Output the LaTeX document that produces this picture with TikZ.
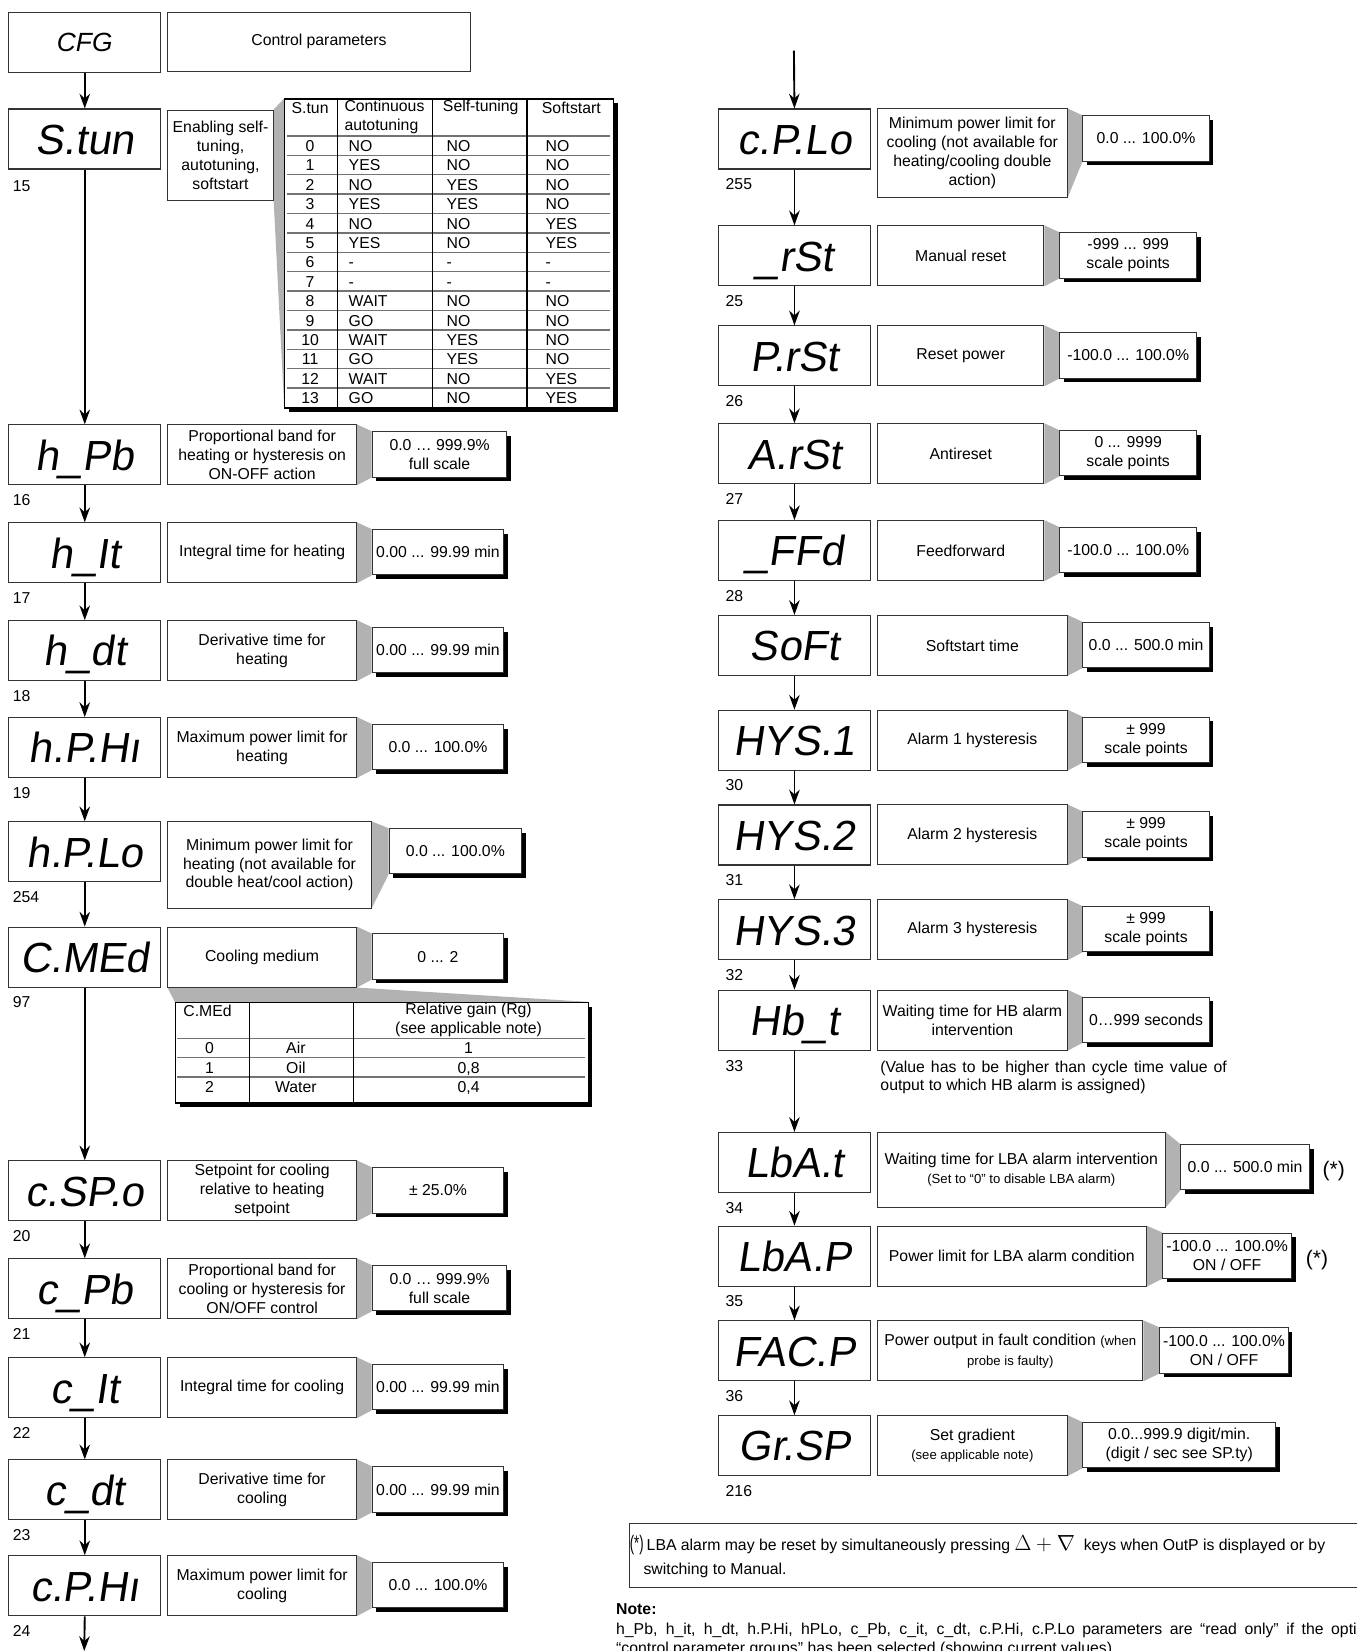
\documentclass[tikz,border=0pt]{standalone}
\usepackage{fontspec}
\setmainfont{Liberation Sans}
\newfontfamily\segfont[FakeSlant=0.15]{Liberation Sans}
\usetikzlibrary{arrows.meta,shadows,backgrounds}

\newcommand\txtfont{\fontsize{15}{18}\selectfont}
\newcommand\smalltxt{\fontsize{12.5}{15}\selectfont}

\tikzset{
  disp/.style={draw=black!80, line width=1pt, anchor=north west, minimum width=144pt, minimum height=57pt,
    inner sep=0pt, text height=29pt, text depth=0pt, font=\segfont\fontsize{40}{40}\selectfont},
  desc/.style={draw=black!80, line width=0.9pt, anchor=north west, align=center, inner sep=1pt, font=\txtfont},
  val/.style={draw=black!80, line width=0.9pt, fill=white, anchor=west, align=center, inner sep=1pt,
    minimum height=43pt, font=\txtfont, general shadow={fill=black, shadow xshift=4pt, shadow yshift=-4pt}},
  tabbox/.style={draw=black, line width=1.1pt, fill=white, anchor=north west,
    general shadow={fill=black, shadow xshift=4pt, shadow yshift=-4pt}},
  rowline/.style={black!55, line width=1.3pt},
  colline/.style={black, line width=1pt},
  cell/.style={inner sep=0pt, font=\txtfont},
  rowcell/.style={cell, text height=11pt, text depth=0pt},
  wedge/.style={fill=black!30},
  flow/.style={->, line width=1.8pt},
  numlbl/.style={anchor=west, inner sep=0pt, font=\txtfont},
  starmark/.style={anchor=west, inner sep=0pt, font=\fontsize{20}{20}\selectfont}
}

\begin{document}
\begin{tikzpicture}[x=1pt, y=-1pt, >={Stealth[length=14pt,width=10pt]}]
\useasboundingbox (0,0) rectangle (1288,1568);

\node[disp, font=\itshape\fontsize{25}{25}\selectfont, text height=18pt] (CFG) at (8,11) {CFG};
\node[desc, minimum width=287pt, minimum height=56pt] (CFG-d) at (159,11) {Control parameters};

\node[disp] (Stun) at (8,103) {S.tun};
\node[desc, minimum width=100pt, minimum height=86pt] (Stun-d) at (159,104) {Enabling self-\\tuning,\\autotuning,\\softstart};
\node[numlbl] (Stun-k) at (12,177) {15};

\node[tabbox, minimum width=312pt, minimum height=293.5pt] (stab) at (270,93.4) {};
\foreach \i in {0,...,13}
  \draw[rowline] (273,{129+18.43*\i}) -- (579,{129+18.43*\i});
\foreach \cx in {320.5,410.5,500.5}
  \draw[colline] (\cx,93.4) -- (\cx,386.9);
\node[cell] (sh0) at (294.5,102.3) {S.tun};
\node[cell, anchor=west, align=left] (sh1) at (327,111.3) {Continuous\\autotuning};
\node[cell, anchor=west] (sh2) at (420.5,102.3) {Self-tuning};
\node[cell, anchor=west] (sh3) at (514.5,102.3) {Softstart};
\foreach \a/\b/\c/\e [count=\i from 0] in {0/NO/NO/NO, 1/YES/NO/NO, 2/NO/YES/NO, 3/YES/YES/NO,
    4/NO/NO/YES, 5/YES/NO/YES, 6/-/-/-, 7/-/-/-, 8/WAIT/NO/NO, 9/GO/NO/NO, 10/WAIT/YES/NO,
    11/GO/YES/NO, 12/WAIT/NO/YES, 13/GO/NO/YES}{
  \pgfmathsetmacro\ry{138.4+18.43*\i}
  \node[rowcell] (s\i-0) at (294.5,\ry) {\a};
  \node[rowcell, anchor=west] (s\i-1) at (331,\ry) {\b};
  \node[rowcell, anchor=west] (s\i-2) at (424,\ry) {\c};
  \node[rowcell, anchor=west] (s\i-3) at (518,\ry) {\e};
}
\begin{scope}[on background layer]
  \fill[wedge] (Stun-d.north east) -- (stab.north west) -- (stab.south west) -- (Stun-d.south east) -- cycle;
\end{scope}

\foreach \nm/\ty/\dsp/\dw/\dh/\txt/\vx/\vw/\vl/\lbl in {
  hPb/403/h\_Pb/179/57/{Proportional band for\\heating or hysteresis on\\ON-OFF action}/353/128/{0.0 … 999.9\%\\full scale}/16,
  hIt/496/h\_It/179/57/{Integral time for heating}/353/125/{0.00 ... 99.99 min}/17,
  hdt/589/h\_dt/179/57/{Derivative time for\\heating}/353/125/{0.00 ... 99.99 min}/18,
  hPHi/681/h.P.Hı/179/57/{Maximum power limit for\\heating}/353/125/{0.0 ... 100.0\%}/19,
  hPLo/780/h.P.Lo/193/82/{Minimum power limit for\\heating (not available for\\double heat/cool action)}/369/126/{0.0 ... 100.0\%}/254,
  CMEd/880/C.MEd/179/57/{Cooling medium}/353/125/{0 ... 2}/97,
  cSPo/1102/c.SP.o/179/57/{Setpoint for cooling\\relative to heating\\setpoint}/353/125/{± 25.0\%}/20,
  cPb/1195/c\_Pb/179/57/{Proportional band for\\cooling or hysteresis for\\ON/OFF control}/353/128/{0.0 … 999.9\%\\full scale}/21,
  cIt/1289/c\_It/179/57/{Integral time for cooling}/353/125/{0.00 ... 99.99 min}/22,
  cdt/1386/c\_dt/179/57/{Derivative time for\\cooling}/353/125/{0.00 ... 99.99 min}/23,
  cPHi/1477/c.P.Hı/179/57/{Maximum power limit for\\cooling}/353/125/{0.0 ... 100.0\%}/24%
}{
  \node[disp] (\nm) at (8,\ty) {\dsp};
  \node[desc, minimum width=\dw, minimum height=\dh] (\nm-d) at (159,\ty) {\txt};
  \node[val, minimum width=\vw] (\nm-v) at (\vx,\ty+28.5) {\vl};
  \node[numlbl] (\nm-k) at (12,\ty+72) {\lbl};
  \begin{scope}[on background layer]
    \fill[wedge] (\nm-d.north east) -- (\nm-v.north west) -- (\nm-v.south west) -- (\nm-d.south east) -- cycle;
  \end{scope}
}

\node[tabbox, minimum width=392pt, minimum height=95.5pt] (mtab) at (166,951.5) {};
\foreach \ly in {986,1004.5,1023}
  \draw[rowline] (168,\ly) -- (556,\ly);
\foreach \cx in {237,336}
  \draw[colline] (\cx,951.5) -- (\cx,1047);
\node[cell, anchor=west] (mh0) at (174,960) {C.MEd};
\node[cell, align=center] (mh2) at (445,969) {Relative gain (Rg)\\(see applicable note)};
\foreach \a/\b/\c [count=\i from 0] in {0/Air/1, 1/Oil/{0,8}, 2/Water/{0,4}}{
  \pgfmathsetmacro\ry{995.5+18.5*\i}
  \node[rowcell] (m\i-0) at (199,\ry) {\a};
  \node[rowcell] (m\i-1) at (281,\ry) {\b};
  \node[rowcell] (m\i-2) at (445,\ry) {\c};
}
\begin{scope}[on background layer]
  \fill[wedge] (CMEd-d.south west) -- (CMEd-d.south east) -- (mtab.north east) -- (mtab.north west) -- cycle;
\end{scope}

\foreach \nm/\ty/\dsp/\dw/\dh/\txt/\vx/\vw/\vo/\vl/\lbl in {
  cPLo/103/c.P.Lo/180/84/{Minimum power limit for\\cooling (not available for\\heating/cooling double\\action)}/1028/120/0/{0.0 ... 100.0\%}/255,
  rSt/214/\_rSt/158/57/{Manual reset}/1006/130/0/{-999 ... 999\\scale points}/25,
  PrSt/309/P.rSt/158/57/{Reset power}/1006/130/0/{-100.0 ... 100.0\%}/26,
  ArSt/402/A.rSt/158/57/{Antireset}/1006/130/0/{0 ... 9999\\scale points}/27,
  FFd/494/\_FFd/158/57/{Feedforward}/1006/130/0/{-100.0 ... 100.0\%}/28,
  SoFt/584/SoFt/180/57/{Softstart time}/1028/120/0/{0.0 ... 500.0 min}/{},
  HYS1/674/HYS.1/180/57/{Alarm 1 hysteresis}/1028/120/0/{± 999\\scale points}/30,
  HYS2/764/HYS.2/180/57/{Alarm 2 hysteresis}/1028/120/0/{± 999\\scale points}/31,
  HYS3/854/HYS.3/180/57/{Alarm 3 hysteresis}/1028/120/0/{± 999\\scale points}/32,
  Hbt/940/Hb\_t/180/57/{Waiting time for HB alarm\\intervention}/1028/120/0/{0…999 seconds}/33,
  LbAt/1075/LbA.t/273/71/{Waiting time for LBA alarm intervention\\{\smalltxt (Set to “0” to disable LBA alarm)}}/1121/122/5/{0.0 ... 500.0 min}/34,
  LbAP/1164/LbA.P/255/57/{Power limit for LBA alarm condition}/1104/122/0/{-100.0 ... 100.0\%\\ON / OFF}/35,
  FACP/1254/FAC.P/252/57/{Power output in fault condition {\smalltxt (when}\\[1pt]{\smalltxt probe is faulty)}}/1101/122/0/{-100.0 ... 100.0\%\\ON / OFF}/36,
  GrSP/1344/Gr.SP/180/57/{Set gradient\\{\smalltxt (see applicable note)}}/1028/183/0/{0.0...999.9 digit/min.\\(digit / sec see SP.ty)}/216%
}{
  \node[disp] (\nm) at (682,\ty) {\dsp};
  \node[desc, minimum width=\dw, minimum height=\dh] (\nm-d) at (833,\ty) {\txt};
  \node[val, minimum width=\vw] (\nm-v) at (\vx,\ty+28.5+\vo) {\vl};
  \node[numlbl] (\nm-k) at (689,\ty+72) {\lbl};
  \begin{scope}[on background layer]
    \fill[wedge] (\nm-d.north east) -- (\nm-v.north west) -- (\nm-v.south west) -- (\nm-d.south east) -- cycle;
  \end{scope}
}

\node[anchor=base west, inner sep=0pt, font=\fontsize{15}{17}\selectfont, text width=329pt, align=justify] (hbnote)
  at (836,1018.5) {(Value has to be higher than cycle time value of\linebreak output to which HB alarm is assigned)};
\node[starmark] (star1) at (1256,1112) {(*)};
\node[starmark] (star2) at (1240,1197) {(*)};

\foreach \a/\b in {CFG/Stun, Stun/hPb, hPb/hIt, hIt/hdt, hdt/hPHi, hPHi/hPLo, hPLo/CMEd, CMEd/cSPo,
    cSPo/cPb, cPb/cIt, cIt/cdt, cdt/cPHi, cPLo/rSt, rSt/PrSt, PrSt/ArSt, ArSt/FFd, FFd/SoFt,
    SoFt/HYS1, HYS1/HYS2, HYS2/HYS3, HYS3/Hbt, Hbt/LbAt, LbAt/LbAP, LbAP/FACP, FACP/GrSP}
  \draw[flow] (\a.south) -- (\b.north);
\coordinate (lend) at (80,1568);
\coordinate (rstart) at (754,48);
\draw[flow] (cPHi.south) -- (lend);
\draw[flow] (rstart) -- (cPLo.north);

\node[draw=black!80, line width=0.9pt, anchor=north west, minimum width=720pt, minimum height=61pt, inner sep=0pt] (fnbox) at (597,1446) {};
\node[starmark] (fnstar) at (598,1467) {\scalebox{0.62}[1]{(*)}};
\node[anchor=base west, inner sep=0pt, font=\txtfont] (fn1) at (614,1473)
  {LBA alarm may be reset by simultaneously pressing {\fontsize{20}{20}\selectfont$\Delta + \nabla$}\ \ keys when OutP is displayed or by};
\node[anchor=base west, inner sep=0pt, font=\txtfont] (fn2) at (611,1495) {switching to Manual.};

\node[anchor=base west, inner sep=0pt, font=\txtfont\bfseries] (note) at (585,1533) {Note:};
\node[anchor=base west, inner sep=0pt, font=\txtfont, text width=720pt, align=justify] (notetxt) at (585,1552)
  {h\_Pb, h\_it, h\_dt, h.P.Hi, hPLo, c\_Pb, c\_it, c\_dt, c.P.Hi, c.P.Lo parameters are “read only” if the option\linebreak “control parameter groups” has been selected (showing current values)};
\end{tikzpicture}
\end{document}
